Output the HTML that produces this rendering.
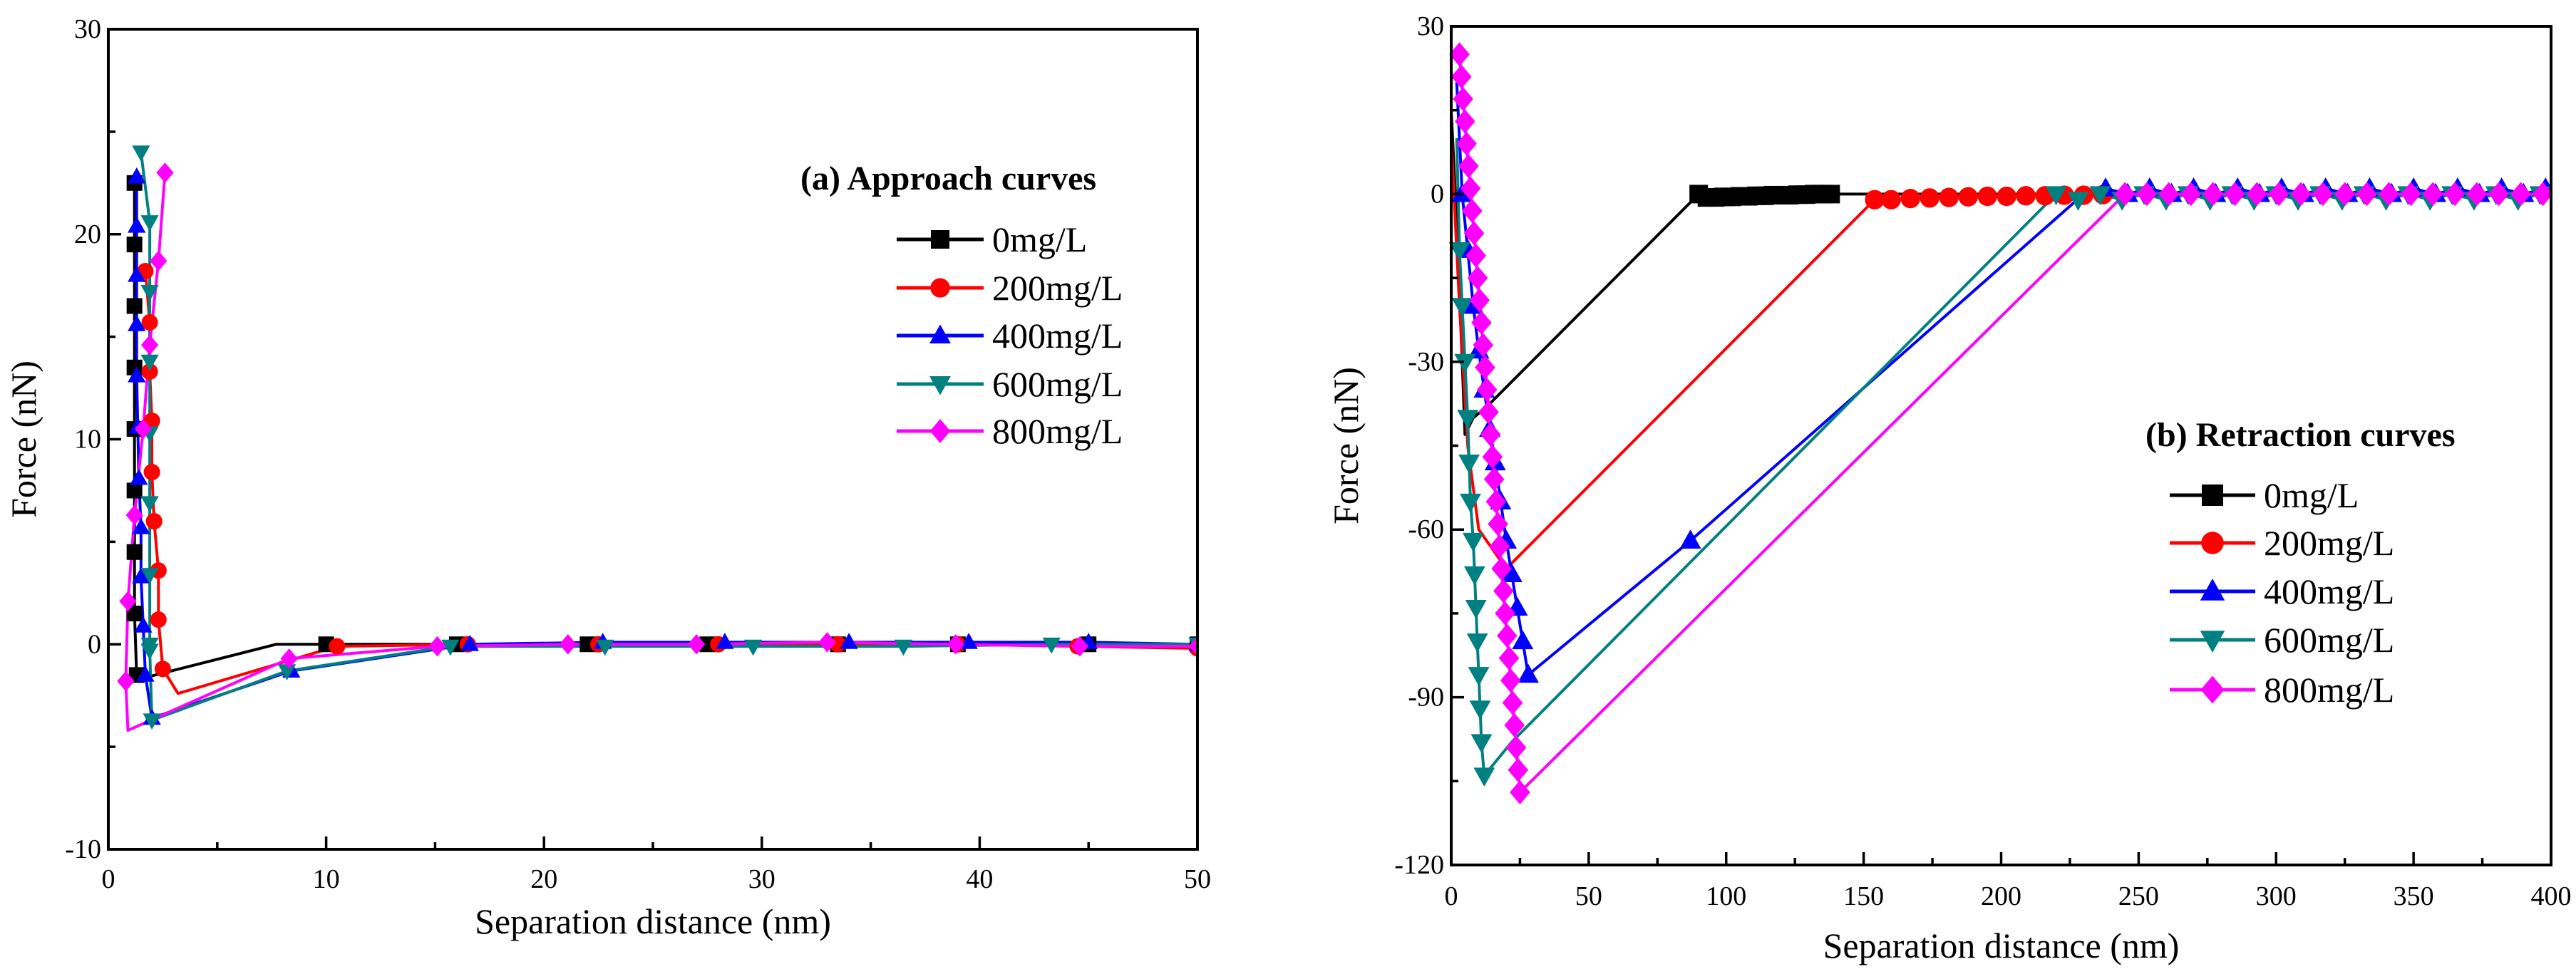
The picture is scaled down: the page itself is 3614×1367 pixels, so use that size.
<!DOCTYPE html>
<html><head><meta charset="utf-8"><style>
html,body{margin:0;padding:0;background:#fff}
svg{display:block;font-family:"Liberation Serif",serif}
</style></head><body>
<svg id="s" width="3614" height="1367" viewBox="0 0 3614 1367" xmlns="http://www.w3.org/2000/svg">
<g id="pa"></g>
<g id="pb"></g>
</svg>
<script>
const NS="http://www.w3.org/2000/svg";
const seriesNames=["0mg/L","200mg/L","400mg/L","600mg/L","800mg/L"];
const seriesColors=["#000000","#ff0000","#0000ff","#008080","#ff00ff"];
const seriesShapes=["square","circle","up","down","diamond"];

// ---- Approach (a) ----
const aX0=[1.2,1.2,1.2,1.2,1.2,1.2,1.2,1.2,1.3,1.4,7.7,10,16,22,27.5,33.5,39,45,50];
const aY0=[22.5,19.5,16.5,13.5,10.5,7.5,4.5,1.5,-1.5,-1.7,0,0,0,0,0,0,0,0,0];
const aX1=[1.7,1.9,1.9,2.0,2.0,2.1,2.3,2.3,2.5,3.2,10.5,16.5,22.5,28,33.5,39,44.5,50];
const aY1=[18.2,15.7,13.3,10.9,8.4,6.0,3.6,1.2,-1.2,-2.4,-0.1,0,0,0,0,0,-0.1,-0.2];
const aX2=[1.3,1.3,1.3,1.3,1.3,1.35,1.4,1.5,1.5,1.6,1.7,2.0,8.4,16.6,22.7,28.3,34,39.5,45,50];
const aY2=[22.8,20.4,18,15.6,13.1,10.6,8.1,5.7,3.3,0.9,-1.5,-3.6,-1.3,0,0.1,0.1,0.1,0.1,0.1,0];
const aX3=[1.5,1.9,1.9,1.9,1.9,1.9,1.9,1.9,1.9,2.0,8.2,15.7,22.8,29.6,36.5,43.3,50];
const aY3=[24,20.6,17.2,13.8,10.3,6.9,3.4,0,-0.3,-3.7,-1.3,-0.1,-0.1,-0.1,-0.1,0,0];
const aX4=[2.6,2.3,1.9,1.6,1.2,0.9,0.8,0.9,8.3,15.1,21.1,27,33,38.9,44.6,50];
const aY4=[23,18.7,14.6,10.5,6.3,2.1,-1.8,-4.2,-0.7,-0.1,0,0,0.1,0,-0.1,-0.1];
const aSkip=[[9,10],[9],[],[],[7]];
const aXTicks=[0,10,20,30,40,50];
const aYTicks=[-10,0,10,20,30];

// ---- Retraction (b) ----
const bX0=[0,2,4,5,8,13,90,93,96,99,102,105,108,111,114,117,120,123,126,129,132,135,138,400];
const bY0=[15,-5,-30,-43,-40,-38,0,-0.6,-0.6,-0.5,-0.5,-0.4,-0.4,-0.3,-0.3,-0.2,-0.2,-0.2,-0.1,-0.1,0,0,0,0];
const bX1=[0,3,6,10,20,154,160,167,174,181,188,195,202,209,216,223,230,237,400];
const bY1=[10,-20,-45,-60,-67,-1,-1,-0.8,-0.7,-0.6,-0.5,-0.4,-0.4,-0.3,-0.3,-0.2,-0.2,-0.1,0];
const bX2=[2,4,6,8,10,12,14,16,18,20,22,24,26,28,87,230,238,246,254,262,270,278,286,294,302,310,318,326,334,342,350,358,366,374,382,390,398];
const bY2=[20,0,-10,-20,-28,-35,-42,-48,-55,-62,-68,-74,-80,-86,-62,0,1,0,1,0,1,0,1,0,1,0,1,0,1,0,1,0,1,0,1,0,1];
const bX3=[2,3,4,5,6,6.5,7,8,8.5,9,9.5,10,10.5,11,12,22,220,228,236,244,252,260,268,276,284,292,300,308,316,324,332,340,348,356,364,372,380,388,396];
const bY3=[10,-10,-20,-30,-40,-48,-55,-62,-68,-74,-80,-86,-92,-98,-104,-98,0,-1,0,-1,0,-1,0,-1,0,-1,0,-1,0,-1,0,-1,0,-1,0,-1,0,-1,0];
const bX4=[3,3.7,4.3,5,5.6,6.3,7,7.6,8.3,9,9.6,10.3,11,11.6,12.3,13,13.6,14.3,15,15.6,16.3,17,17.6,18.3,19,19.6,20.3,21,21.6,22.3,23,23.6,24.3,25,245,253,261,269,277,285,293,301,309,317,325,333,341,349,357,365,373,381,389,397];
const bY4=[25,21,17,13,9,5,1,-3,-7,-11,-15,-19,-23,-27,-31,-35,-39,-43,-47,-51,-55,-59,-63,-67,-71,-75,-79,-83,-87,-91,-95,-99,-103,-107,0,0,0,0,0,0,0,0,0,0,0,0,0,0,0,0,0,0,0,0];
const bSkip=[[0,1,2,3,4,5,23],[0,1,2,3,4,18],[0,15],[0,15],[]];
const bXTicks=[0,50,100,150,200,250,300,350,400];
const bYTicks=[-120,-90,-60,-30,0,30];

function el(tag,attrs,parent,name,inter){
  const e=document.createElementNS(NS,tag);
  for(const k in attrs)e.setAttribute(k,attrs[k]);
  
  
  parent.appendChild(e);return e;
}
function marker(g,shape,cx,cy,r,color,name){
  let e;
  if(shape==="square")e=el('rect',{x:cx-r,y:cy-r,width:2*r,height:2*r,fill:color},g,name,false);
  else if(shape==="circle")e=el('circle',{cx:cx,cy:cy,r:r*1.05,fill:color},g,name,false);
  else if(shape==="up")e=el('polygon',{points:`${cx},${cy-r*1.2} ${cx-r*1.15},${cy+r*0.85} ${cx+r*1.15},${cy+r*0.85}`,fill:color},g,name,false);
  else if(shape==="down")e=el('polygon',{points:`${cx},${cy+r*1.2} ${cx-r*1.15},${cy-r*0.85} ${cx+r*1.15},${cy-r*0.85}`,fill:color},g,name,false);
  else e=el('polygon',{points:`${cx},${cy-r*1.3} ${cx+r*1.1},${cy} ${cx},${cy+r*1.3} ${cx-r*1.1},${cy}`,fill:color},g,name,false);
  return e;
}
function chart(g,cfg){
  const {L,R,T,B,xmin,xmax,ymin,ymax}=cfg;
  const sx=v=>L+(v-xmin)/(xmax-xmin)*(R-L);
  const sy=v=>B-(v-ymin)/(ymax-ymin)*(B-T);
  const clip=el('clipPath',{id:cfg.id+'c'},g,'plot-clip',false);
  el('rect',{x:L-15,y:T,width:R-L+15,height:B-T},clip,'plot-clip-rect',false);
  const dg=el('g',{'clip-path':`url(#${cfg.id}c)`},g,'plot-area',false);
  for(let s=0;s<5;s++){
    const xs=cfg.xs[s],ys=cfg.ys[s];
    const pts=xs.map((x,i)=>sx(x).toFixed(1)+','+sy(ys[i]).toFixed(1)).join(' ');
    el('polyline',{points:pts,fill:'none',stroke:seriesColors[s],'stroke-width':cfg.lw,'stroke-linejoin':'round'},dg,'line-'+seriesNames[s].replace('/','-per-').toLowerCase(),false);
  }
  for(let s=0;s<5;s++){
    const xs=cfg.xs[s],ys=cfg.ys[s];
    const mg=el('g',{},dg,'markers-'+seriesNames[s].replace('/','-per-').toLowerCase(),false);
    xs.forEach((x,i)=>{ if(cfg.skip[s].includes(i))return;
      marker(mg,seriesShapes[s],sx(x),sy(ys[i]),cfg.mr,seriesColors[s],'data-point'); });
  }
  el('rect',{x:L,y:T,width:R-L,height:B-T,fill:'none',stroke:'#000','stroke-width':4},g,'plot-frame',false);
  const xt=cfg.xticks, yt=cfg.yticks;
  for(let i=0;i<xt.length;i++){
    el('line',{x1:sx(xt[i]),x2:sx(xt[i]),y1:B,y2:B-18,stroke:'#000','stroke-width':3.5},g,'x-tick',false);
    const t=el('text',{x:sx(xt[i]),y:B+cfg.xly,'font-size':cfg.fs,'text-anchor':'middle'},g,'x-tick-label',false);t.textContent=xt[i];
    if(i<xt.length-1){const m=(xt[i]+xt[i+1])/2;el('line',{x1:sx(m),x2:sx(m),y1:B,y2:B-10,stroke:'#000','stroke-width':3.5},g,'x-minor-tick',false);}
  }
  for(let i=0;i<yt.length;i++){
    el('line',{x1:L,x2:L+18,y1:sy(yt[i]),y2:sy(yt[i]),stroke:'#000','stroke-width':3.5},g,'y-tick',false);
    const t=el('text',{x:L-10,y:sy(yt[i])+12,'font-size':cfg.fs,'text-anchor':'end'},g,'y-tick-label',false);t.textContent=yt[i];
    if(i<yt.length-1){const m=(yt[i]+yt[i+1])/2;el('line',{x1:L,x2:L+10,y1:sy(m),y2:sy(m),stroke:'#000','stroke-width':3.5},g,'y-minor-tick',false);}
  }
  const xtt=el('text',{x:(L+R)/2,y:cfg.xty,'font-size':50,'text-anchor':'middle'},g,'x-axis-title',false);xtt.textContent='Separation distance (nm)';
  const ytt=el('text',{x:0,y:0,'font-size':50,'text-anchor':'middle',transform:`translate(${cfg.ytx},${(T+B)/2}) rotate(-90)`},g,'y-axis-title',false);ytt.textContent='Force (nN)';
  const lt=el('text',{x:cfg.lgTx,y:cfg.lgTy,'font-size':48,'font-weight':'bold'},g,'legend-title',false);lt.textContent=cfg.title;
  for(let s=0;s<5;s++){
    const y=cfg.lgY[s];
    const lg=el('g',{},g,'legend-entry',false);
    el('line',{x1:cfg.lgX1,x2:cfg.lgX2,y1:y,y2:y,stroke:seriesColors[s],'stroke-width':cfg.lw+1},lg,'legend-line',false);
    marker(lg,seriesShapes[s],(cfg.lgX1+cfg.lgX2)/2,y,cfg.mr+2,seriesColors[s],'legend-marker');
    const t=el('text',{x:cfg.lgX2+12,y:y+17,'font-size':50},lg,'legend-label',false);t.textContent=seriesNames[s];
  }
}
chart(document.getElementById('pa'),{id:'a',L:152,R:1680,T:41,B:1192,xmin:0,xmax:50,ymin:-10,ymax:30,
  xs:[aX0,aX1,aX2,aX3,aX4],ys:[aY0,aY1,aY2,aY3,aY4],skip:aSkip,xticks:aXTicks,yticks:aYTicks,
  lw:4,mr:11,fs:38,xly:54,xty:1310,ytx:50,title:'(a) Approach curves',lgTx:1123,lgTy:266,
  lgY:[336,404,471,539,605],lgX1:1258,lgX2:1380});
chart(document.getElementById('pb'),{id:'b',L:2036,R:3579,T:37,B:1214,xmin:0,xmax:400,ymin:-120,ymax:30,
  xs:[bX0,bX1,bX2,bX3,bX4],ys:[bY0,bY1,bY2,bY3,bY4],skip:bSkip,xticks:bXTicks,yticks:bYTicks,
  lw:4,mr:13,fs:38,xly:56,xty:1344,ytx:1905,title:'(b) Retraction curves',lgTx:3010,lgTy:626,
  lgY:[695,762,830,898,968],lgX1:3044,lgX2:3164});
</script>
</body></html>
